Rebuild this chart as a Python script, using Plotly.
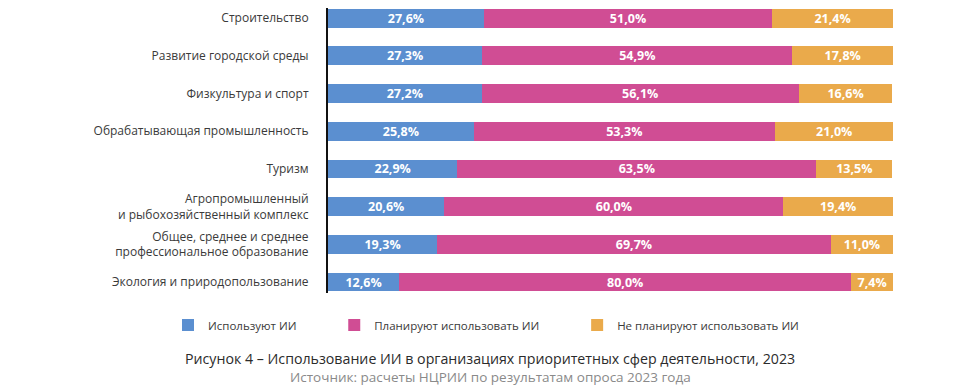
import plotly.graph_objects as go

categories = [
    "Строительство",
    "Развитие городской среды",
    "Физкультура и спорт",
    "Обрабатывающая промышленность",
    "Туризм",
    "Агропромышленный<br>и рыбохозяйственный комплекс",
    "Общее, среднее и среднее<br>профессиональное образование",
    "Экология и природопользование",
]
use_ai = [27.6, 27.3, 27.2, 25.8, 22.9, 20.6, 19.3, 12.6]
plan_ai = [51.0, 54.9, 56.1, 53.3, 63.5, 60.0, 69.7, 80.0]
no_plan_ai = [21.4, 17.8, 16.6, 21.0, 13.5, 19.4, 11.0, 7.4]
series_names = ["Используют ИИ", "Планируют использовать ИИ", "Не планируют использовать ИИ"]
series_colors = ["#5b8fd0", "#d04d94", "#eaaa4b"]

FONT = "Open Sans"
PAD = "\u00a0" * 11  # spacing between legend entries

fig = go.Figure()
for name, vals, color in zip(series_names, [use_ai, plan_ai, no_plan_ai], series_colors):
    fig.add_trace(go.Bar(
        y=categories, x=vals, name=name + PAD, orientation="h",
        marker=dict(color=color, line=dict(width=0)),
        width=0.5,
        texttemplate="<b>%{x:.1f}%</b>",
        textposition="inside", insidetextanchor="middle",
        textfont=dict(color="white", size=12.5, family=FONT),
        constraintext="none",
    ))

W, H = 970, 383
L, R, T, B = 320, 85, 0, 98
PW, PH = W - L - R, H - T - B

fig.update_layout(
    barmode="stack",
    width=W, height=H,
    margin=dict(l=L, r=R, t=T, b=B),
    paper_bgcolor="white", plot_bgcolor="white",
    separators=", ",
    font=dict(family=FONT, color="#3a3a3a", size=12),
    showlegend=True,
    legend=dict(
        orientation="h", x=(160 - L) / PW, xanchor="left",
        y=(PH - 317) / PH, yanchor="middle",
        font=dict(size=11.5, color="#3a3a3a"), itemwidth=30,
        traceorder="normal",
    ),
)
fig.update_xaxes(range=[0, 100], visible=False, fixedrange=True)
fig.update_yaxes(
    categoryorder="array", categoryarray=categories,
    range=[7.29, -0.27],
    showline=True, linecolor="#111", linewidth=2,
    showgrid=False, zeroline=False,
    ticks="", ticklabelstandoff=15,
    tickfont=dict(size=12, color="#3a3a3a", family=FONT),
)
fig.add_annotation(
    text="Рисунок 4 – Использование ИИ в организациях приоритетных сфер деятельности, 2023",
    xref="paper", yref="paper", x=(482 - L) / PW, y=(PH - 350) / PH,
    xanchor="center", yanchor="middle",
    showarrow=False, font=dict(size=14.2, color="#2b2b2b", family=FONT),
)
fig.add_annotation(
    text="Источник: расчеты НЦРИИ по результатам опроса 2023 года",
    xref="paper", yref="paper", x=(482 - L) / PW, y=(PH - 369) / PH,
    xanchor="center", yanchor="middle",
    showarrow=False, font=dict(size=13.5, color="#8a8a8a", family=FONT),
)

fig.write_html("out.html")
